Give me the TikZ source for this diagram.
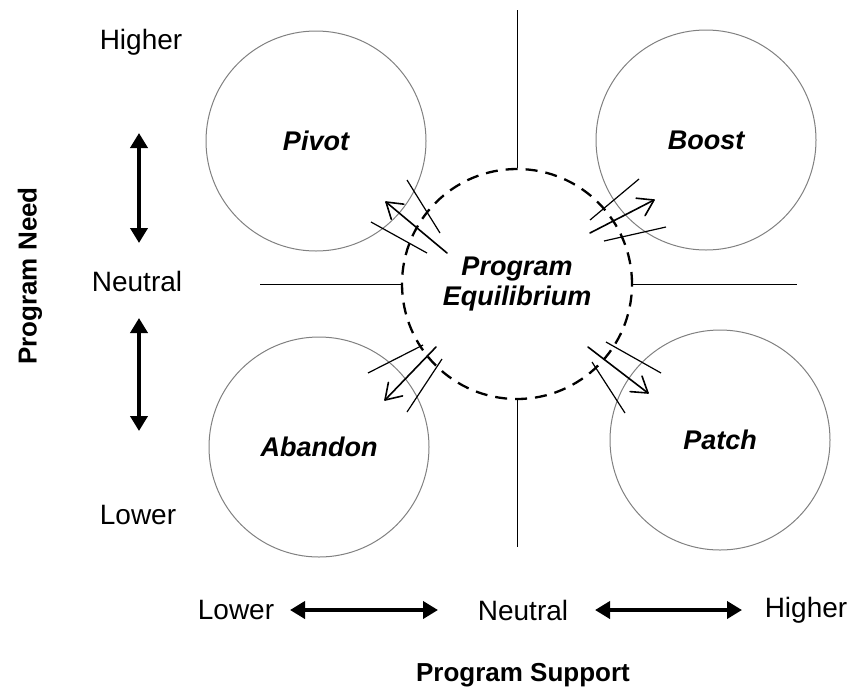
\documentclass[tikz,border=0pt]{standalone}
\usepackage{fontspec}
\setmainfont{Liberation Sans}
\usetikzlibrary{arrows.meta,calc}
\tikzset{
  quad/.style={circle, draw=black!50, line width=1pt, minimum size=220pt, inner sep=0pt,
    font=\fontsize{27}{31}\selectfont\bfseries\itshape},
  core/.style={circle, draw=black, line width=2.3pt, dash pattern=on 12pt off 8pt, minimum size=230pt,
    inner sep=0pt, align=center, font=\fontsize{27}{30}\selectfont\bfseries\itshape},
  axis/.style={line width=0.9pt},
  lbl/.style={font=\fontsize{28}{32}\selectfont},
  title/.style={font=\fontsize{26}{30}\selectfont\bfseries},
  scale arrow/.style={line width=4pt, {Triangle[length=15pt,width=17pt]}-{Triangle[length=15pt,width=17pt]}},
  move/.style={line width=1.6pt, line cap=round, line join=round},
  flank/.style={line width=1.2pt}
}
% a shift arrow from #1 to #2 with an open V head of two barbs
\newcommand\shiftarrow[2]{%
  \draw[move] (#1) -- (#2);
  \draw[move] ($(#2)!18pt!33:(#1)$) -- (#2) -- ($(#2)!18pt!-33:(#1)$);
}
\begin{document}
\begin{tikzpicture}[x=1pt,y=-1pt]
\useasboundingbox (0,0) rectangle (850,689);

% four outcome circles and the central equilibrium
\node[quad] (pivot) at (316,141) {Pivot};
\node[quad] (boost) at (706,140) {Boost};
\node[quad] (abandon) at (319,447) {Abandon};
\node[quad] (patch) at (720,440) {Patch};
\node[core] (eq) at (517,284) {Program\\Equilibrium};

% quadrant axes
\coordinate (axT) at (517,10);
\coordinate (axB) at (517,547);
\coordinate (axL) at (260,284);
\coordinate (axR) at (797,284);
\draw[axis] (axT) -- (eq.north);
\draw[axis] (eq.south) -- (axB);
\draw[axis] (axL) -- (eq.west);
\draw[axis] (eq.east) -- (axR);

% movement toward Pivot
\coordinate (pvS) at (447,253); \coordinate (pvE) at (386,202);
\coordinate (pvA1) at (407,180); \coordinate (pvA2) at (440,233);
\coordinate (pvB1) at (371,222); \coordinate (pvB2) at (427,253);
\shiftarrow{pvS}{pvE}
\draw[flank] (pvA1) -- (pvA2);
\draw[flank] (pvB1) -- (pvB2);

% movement toward Boost
\coordinate (bsS) at (590,233); \coordinate (bsE) at (654,200);
\coordinate (bsA1) at (590,220); \coordinate (bsA2) at (639,179);
\coordinate (bsB1) at (604,241); \coordinate (bsB2) at (666,227);
\shiftarrow{bsS}{bsE}
\draw[flank] (bsA1) -- (bsA2);
\draw[flank] (bsB1) -- (bsB2);

% movement toward Abandon
\coordinate (abS) at (436,347); \coordinate (abE) at (385,400);
\coordinate (abA1) at (368,373); \coordinate (abA2) at (423,345);
\coordinate (abB1) at (407,412); \coordinate (abB2) at (442,359);
\shiftarrow{abS}{abE}
\draw[flank] (abA1) -- (abA2);
\draw[flank] (abB1) -- (abB2);

% movement toward Patch
\coordinate (ptS) at (588,347); \coordinate (ptE) at (648,393);
\coordinate (ptA1) at (606,342); \coordinate (ptA2) at (661,373);
\coordinate (ptB1) at (592,362); \coordinate (ptB2) at (625,413);
\shiftarrow{ptS}{ptE}
\draw[flank] (ptA1) -- (ptA2);
\draw[flank] (ptB1) -- (ptB2);

% vertical scale: program need
\node[lbl] (nHi) at (141,42) {Higher};
\node[lbl] (nMid) at (137,281) {Neutral};
\node[lbl] (nLo) at (138,515) {Lower};
\coordinate (vA1) at (139,133); \coordinate (vA2) at (139,243);
\coordinate (vB1) at (139,318); \coordinate (vB2) at (139,431);
\draw[scale arrow] (vA1) -- (vA2);
\draw[scale arrow] (vB1) -- (vB2);
\node[title, rotate=90] (need) at (30,276) {Program Need};

% horizontal scale: program support
\node[lbl] (sLo) at (236,610) {Lower};
\node[lbl] (sMid) at (523,610) {Neutral};
\node[lbl] (sHi) at (806,610) {Higher};
\coordinate (hA1) at (290,610); \coordinate (hA2) at (438,610);
\coordinate (hB1) at (595,610); \coordinate (hB2) at (742,610);
\draw[scale arrow] (hA1) -- (hA2);
\draw[scale arrow] (hB1) -- (hB2);
\node[title] (support) at (523,675) {Program Support};
\end{tikzpicture}
\end{document}
